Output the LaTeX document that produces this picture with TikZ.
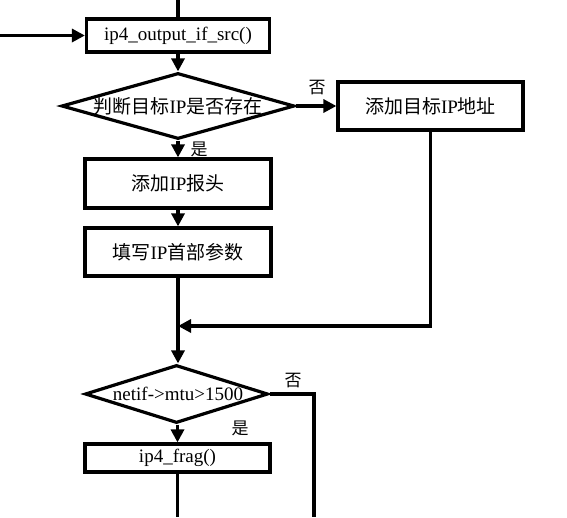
\documentclass[tikz,border=0pt]{standalone}
\usepackage{fontspec}
\setmainfont{Liberation Serif}
\newfontfamily\cjk{Noto Sans CJK SC}
\usetikzlibrary{arrows.meta,shapes.geometric}
\begin{document}
\begin{tikzpicture}[x=1pt,y=-1pt,
  line width=3.2pt,
  every node/.style={font=\fontsize{19}{22}\selectfont, inner sep=0pt},
  procbox/.style={draw, rectangle, line width=3.2pt},
  decbox/.style={draw, diamond, line width=3.2pt, inner sep=0pt},
  lbl/.style={font=\fontsize{17}{20}\selectfont\cjk},
  arr/.style={-{Triangle[length=13pt,width=13pt]}}
]
\useasboundingbox (0,0) rectangle (567,517);

% nodes
\node[procbox, minimum width=183pt, minimum height=33pt] (b1) at (178,35.5) {ip4\_output\_if\_src()};
\node[decbox, minimum width=233pt, minimum height=66pt] (d1) at (178,106) {};
\node (d1t) at (178,106) {\cjk 判断目标\rmfamily IP\cjk 是否存在};
\node[procbox, minimum width=185pt, minimum height=48pt] (rb) at (430.5,106) {\cjk 添加目标\rmfamily IP\cjk 地址};
\node[procbox, minimum width=186pt, minimum height=49pt] (b2) at (178,183.5) {\cjk 添加\rmfamily IP\cjk 报头};
\node[procbox, minimum width=186pt, minimum height=48pt] (b3) at (178,252) {\cjk 填写\rmfamily IP\cjk 首部参数};
\node[decbox, minimum width=183pt, minimum height=58pt] (d2) at (176.5,394) {};
\node (d2t) at (178,394) {netif->mtu>1500};
\node[procbox, minimum width=185pt, minimum height=28pt] (b4) at (177.5,458) {ip4\_frag()};

% labels
\node[lbl] (l1) at (317,88) {否};
\node[lbl] (l2) at (199,149) {是};
\node[lbl] (l3) at (293,381) {否};
\node[lbl] (l4) at (240,428) {是};

% coordinates
\coordinate (top) at (178,0);
\coordinate (inl) at (0,35.5);
\coordinate (j) at (178,326);
\coordinate (rt) at (314,394);
\coordinate (rbot) at (314,517);
\coordinate (bot) at (177.5,517);

% connectors
\draw (top) -- (b1.north);
\draw[arr] (inl) -- (b1.west);
\draw[arr] (b1.south) -- (d1.north);
\draw[arr] (d1.east) -- (rb.west);
\draw[arr] (d1.south) -- (b2.north);
\draw[arr] (b2.south) -- (b3.north);
\draw[arr] (b3.south) -- (d2.north -| b3.south);
\draw[arr] (rb.south) |- (j);
\draw (d2.east) -- (rt) -- (rbot);
\draw[arr] (d2.south -| b4.south) -- (b4.north);
\draw (b4.south) -- (bot);
\end{tikzpicture}
\end{document}
